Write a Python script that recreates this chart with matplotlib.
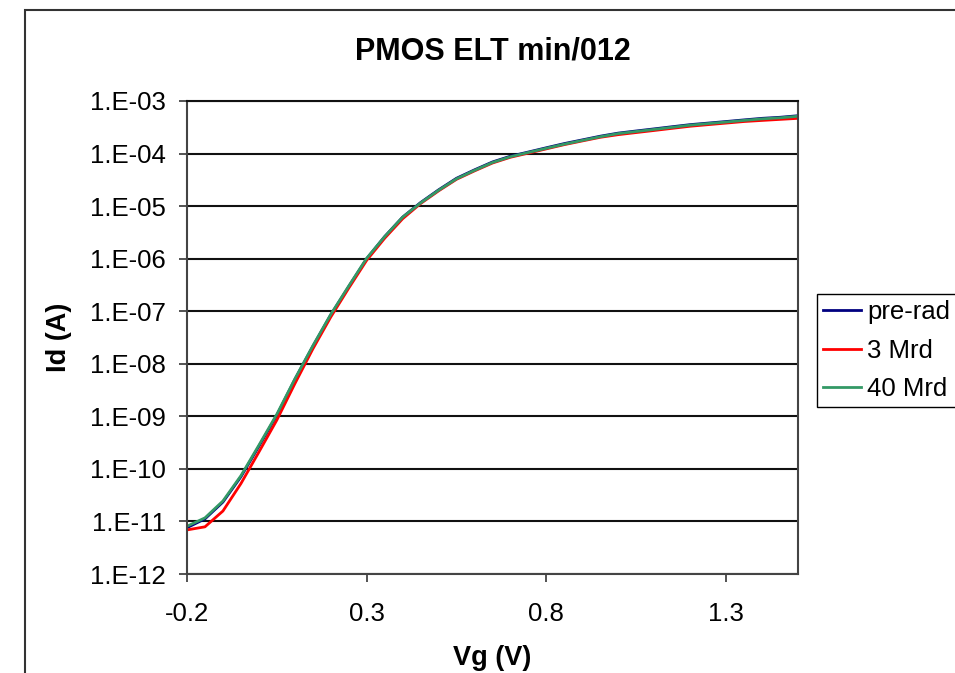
import numpy as np
import matplotlib
matplotlib.use("Agg")
import matplotlib.pyplot as plt
from matplotlib.ticker import FuncFormatter, FixedLocator
from matplotlib.patches import Rectangle

plt.rcParams['font.family'] = ['Liberation Sans', 'DejaVu Sans']

# gate voltage sweep (V)
vg = [-0.20, -0.15, -0.10, -0.05, 0.00, 0.05, 0.10, 0.15, 0.20, 0.25,
      0.30, 0.35, 0.40, 0.45, 0.50, 0.55, 0.60, 0.65, 0.70, 0.75,
      0.80, 0.85, 0.90, 0.95, 1.00, 1.05, 1.10, 1.15, 1.20, 1.25,
      1.30, 1.35, 1.40, 1.45, 1.50]

# drain current (A)
id_prerad = [7.6e-12, 1.12e-11, 2.34e-11, 7.08e-11, 2.69e-10, 1.05e-9, 5.01e-9, 2.14e-8, 8.51e-8, 2.95e-7,
             1.00e-6, 2.63e-6, 6.17e-6, 1.17e-5, 2.04e-5, 3.39e-5, 4.90e-5, 6.92e-5, 8.91e-5, 1.07e-4,
             1.29e-4, 1.55e-4, 1.82e-4, 2.14e-4, 2.45e-4, 2.69e-4, 2.95e-4, 3.24e-4, 3.55e-4, 3.80e-4,
             4.07e-4, 4.37e-4, 4.68e-4, 4.90e-4, 5.25e-4]
id_3mrd = [6.9e-12, 7.9e-12, 1.58e-11, 5.25e-11, 2.09e-10, 8.51e-10, 4.17e-9, 1.91e-8, 7.76e-8, 2.75e-7,
           9.33e-7, 2.45e-6, 5.75e-6, 1.12e-5, 1.95e-5, 3.24e-5, 4.68e-5, 6.61e-5, 8.51e-5, 1.02e-4,
           1.23e-4, 1.48e-4, 1.74e-4, 2.04e-4, 2.29e-4, 2.51e-4, 2.75e-4, 3.02e-4, 3.31e-4, 3.55e-4,
           3.80e-4, 4.07e-4, 4.27e-4, 4.47e-4, 4.68e-4]
id_40mrd = [8.1e-12, 1.17e-11, 2.45e-11, 7.41e-11, 2.82e-10, 1.10e-9, 5.13e-9, 2.19e-8, 8.71e-8, 3.02e-7,
            1.02e-6, 2.63e-6, 6.17e-6, 1.15e-5, 2.00e-5, 3.31e-5, 4.79e-5, 6.76e-5, 8.71e-5, 1.05e-4,
            1.26e-4, 1.51e-4, 1.78e-4, 2.09e-4, 2.40e-4, 2.63e-4, 2.88e-4, 3.16e-4, 3.47e-4, 3.72e-4,
            3.98e-4, 4.27e-4, 4.57e-4, 4.79e-4, 5.13e-4]

labels = ["pre-rad", "3 Mrd", "40 Mrd"]
colors = ["#000080", "#ff0000", "#339966"]
xticks = [-0.2, 0.3, 0.8, 1.3]

fig = plt.figure(figsize=(9.55, 6.73), dpi=100)
ax = fig.add_axes([187/955, 1-574/673, (798-187)/955, (574-101)/673])

# outer chart frame (cut off at right and bottom like the original)
fig.patches.append(Rectangle((25/955, -0.05), 1.0, 1-10/673+0.05, transform=fig.transFigure,
                             fill=False, edgecolor="#333333", linewidth=1.5))

for ys, lab, c in zip([id_prerad, id_3mrd, id_40mrd], labels, colors):
    ax.plot(vg, ys, color=c, linewidth=2.0, label=lab)

ax.set_yscale("log")
ax.set_ylim(1e-12, 1e-3)
ax.set_xlim(-0.2, 1.5)
ax.yaxis.set_major_locator(FixedLocator([10.0**k for k in range(-12, -2)]))
ax.yaxis.set_minor_locator(FixedLocator([]))
ax.yaxis.set_major_formatter(FuncFormatter(lambda v, p: "1.E{:03d}".format(int(round(np.log10(v))))))
ax.set_xticks(xticks)
ax.set_xticklabels(["{:.1f}".format(t) for t in xticks])

ax.grid(axis="y", color="#111111", linewidth=1.5)
ax.set_axisbelow(True)
for s in ax.spines.values():
    s.set_color("#444444")
    s.set_linewidth(1.5)
ax.spines["top"].set_color("#111111")
ax.tick_params(axis="both", direction="out", length=6, width=1.3, color="#444444", labelsize=18.5)
ax.tick_params(axis="y", pad=9)
ax.tick_params(axis="x", pad=14)

ax.set_title("PMOS ELT min/012", fontsize=22, fontweight="bold", pad=30)
ax.set_xlabel("Vg (V)", fontsize=19.5, fontweight="bold", labelpad=14)
ax.set_ylabel("Id (A)", fontsize=19.5, fontweight="bold", labelpad=13)

leg = fig.legend(loc="upper left", bbox_to_anchor=(817/955, 1-294/673), fontsize=18.5,
                 handlelength=1.45, handletextpad=0.25, labelspacing=0.55, borderpad=0.25,
                 borderaxespad=0, fancybox=False, framealpha=1)
leg.get_frame().set_edgecolor("black")
leg.get_frame().set_linewidth(1.0)

fig.savefig("out.png", dpi=100)
